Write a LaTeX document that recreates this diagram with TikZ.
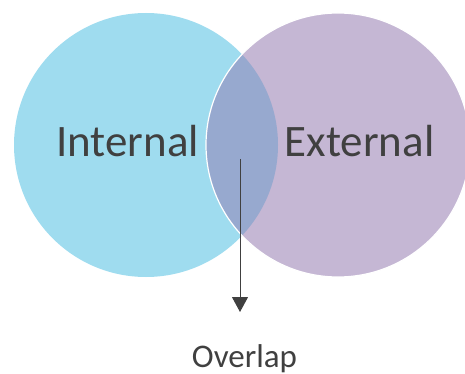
\documentclass[tikz,border=0pt]{standalone}
\usepackage{fontspec}
\setmainfont{Carlito}
\usetikzlibrary{arrows.meta}
\definecolor{intblue}{HTML}{9FDCEF}
\definecolor{extpurple}{HTML}{C5B7D4}
\definecolor{overlapcol}{HTML}{97A9CF}
\definecolor{textgray}{HTML}{404040}
\tikzset{%
    venn/.style={circle, minimum size=264pt, inner sep=0pt},
    label text/.style={text=textgray, font=\fontsize{45}{54}\selectfont, anchor=base},
    >={Triangle[length=15pt,width=16pt]}
}

\begin{document}
\begin{tikzpicture}[x=1pt,y=-1pt]
    \useasboundingbox (0,0) rectangle (465,374);
    % the two sets
    \node[venn, fill=intblue] (internal) at (146,145) {};
    \node[venn, fill=extpurple] (external) at (338,145) {};
    \begin{scope}
        \clip (146,145) circle (132);
        \fill[overlapcol] (338,145) circle (132);
    \end{scope}
    \draw[white, line width=1.2pt] (338,145) circle (132);
    \node[label text] (intname) at (127.5,157) {Internal};
    \node[label text] (extname) at (359.5,157) {External};
    % pointer to the overlap
    \coordinate (ovstart) at (240,159);
    \coordinate (ovtip) at (240,312);
    \node[text=textgray, font=\fontsize{33}{40}\selectfont, anchor=base] (ovlabel) at (244.5,367) {Overlap};
    \draw[->, textgray, line width=1pt] (ovstart) -- (ovtip);
\end{tikzpicture}
\end{document}
